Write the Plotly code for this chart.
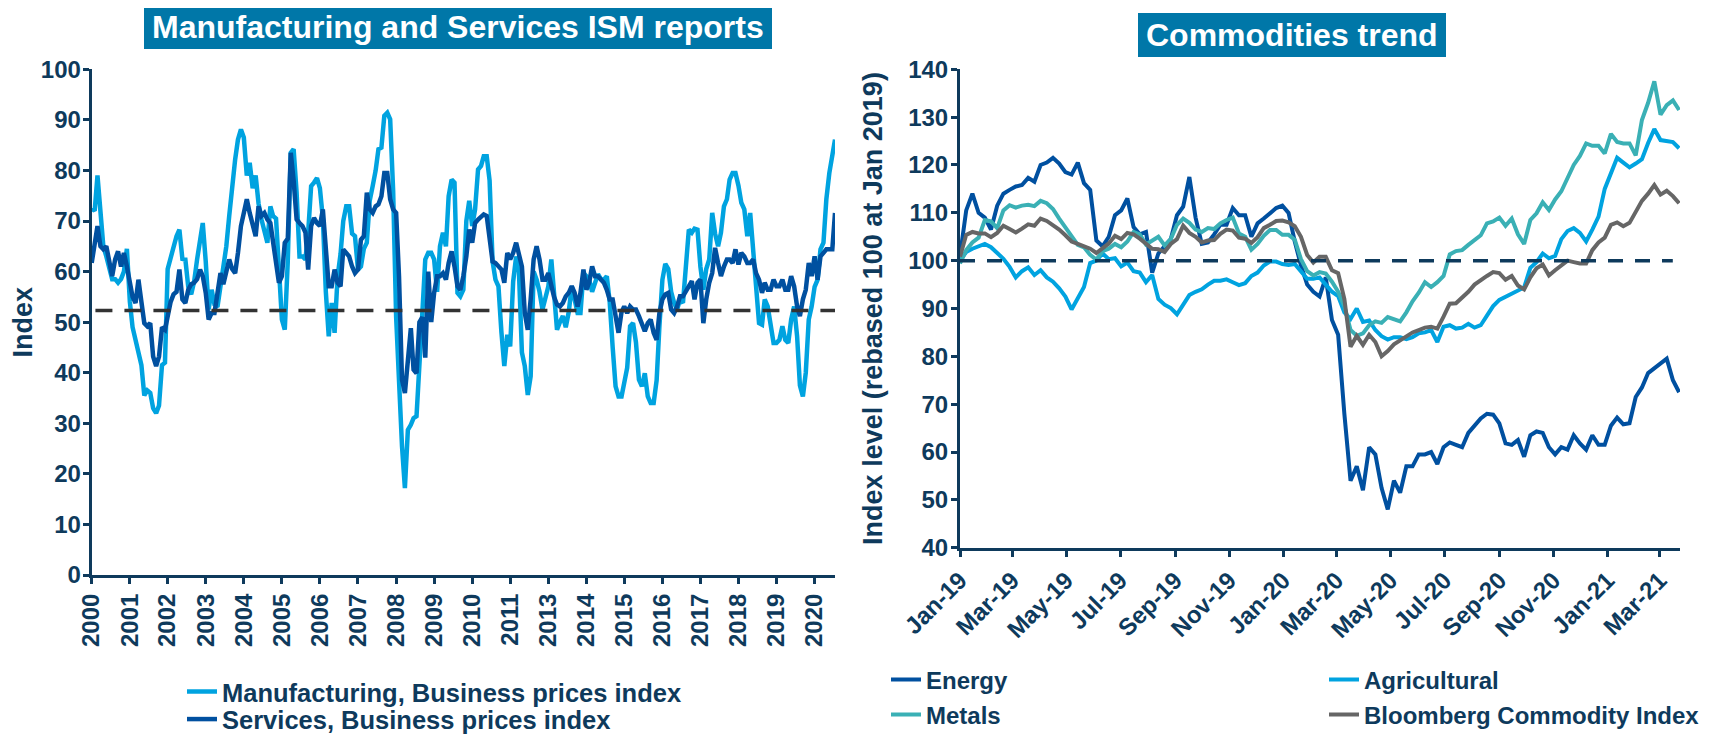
import pandas as pd
import plotly.graph_objects as go

# ---------------- data: ISM business prices (monthly, Jan 2000 - Mar 2021) ----------------
ism_dates = pd.date_range("2000-01-01", periods=255, freq="MS")
manufacturing = [
    72.5, 72, 79, 71, 65, 63, 61, 58.5, 58.5, 57.8, 58.5, 60,
    64.5, 54, 49, 46.5, 44, 41.5, 35.5, 36.5, 36, 33, 32, 33.5,
    41.5, 42, 60.5, 63, 64.5, 67, 68.3, 62.5, 62.4, 57, 55.5, 58,
    62.4, 66, 69.6, 62, 52.5, 56.4, 53.5, 53, 57, 62, 65, 71,
    77, 82.2, 86.1, 88.1, 86.5, 79, 81.5, 76.5, 79, 73.5, 70.3, 68,
    65.7, 72.9, 71, 70.5, 59.7, 50.5, 48.5, 62, 83.5, 84.2, 75.6, 63,
    63, 62.4, 67.7, 76.9, 77.6, 78.5, 76.5, 70.5, 56, 47.2, 53.8, 47.9,
    59, 63.5, 70, 72.9, 72.9, 67.5, 67, 60.4, 61, 64.5, 65.7, 74,
    76.9, 80, 84.2, 84.5, 90.8, 91.4, 90.1, 76, 51, 36, 25.5, 17.2,
    28.7, 29.7, 31, 31.4, 40, 52, 62.4, 63.7, 63.7, 62.4, 56, 65,
    67.7, 65, 74.9, 78.2, 77.6, 55.8, 55.1, 56.4, 70, 74, 69, 72.3,
    80.2, 80.9, 82.8, 82.8, 78, 62, 58.4, 57.1, 48, 41.3, 47.5, 45.2,
    58, 63, 60, 44, 41.3, 35.6, 39.3, 60, 58.4, 56, 52.5, 55,
    57.1, 62.4, 54.5, 48.5, 50, 51.2, 49, 52, 57.1, 54, 51.8, 51.8,
    59.7, 59.1, 58.4, 56, 57.8, 59.5, 58.5, 58.4, 59.1, 54, 45, 37.3,
    35.3, 35.3, 38, 41, 49.2, 49.8, 46, 38.6, 37.3, 39.9, 35.3, 34,
    34, 38.5, 49.2, 58.4, 61.5, 60.5, 56, 53.8, 52.5, 54.5, 53.8, 62,
    68.3, 67.7, 68.5, 68.3, 61, 56.4, 60.5, 62.4, 71.6, 67.5, 65, 67.7,
    72.9, 74.3, 78.2, 79.5, 79.5, 77, 73.6, 72.3, 67, 71.6, 64, 55,
    49.8, 49.5, 54.5, 53.1, 49.5, 45.9, 45.9, 46.5, 49.2, 46.5, 45.9, 50.5,
    53.1, 47.2, 37.5, 35.3, 40, 50.5, 53.1, 57, 58.4, 64.4, 65.7, 74.3,
    79.5, 82.8, 86.1,
]
services = [
    61.7, 66.3, 69, 65, 64.4, 65, 61.5, 59.1, 62.4, 64, 61, 63.7,
    61, 57.5, 55, 53.8, 58.4, 54, 49.8, 49.2, 49.8, 43.2, 41.3, 43.2,
    49, 48.5, 51.2, 54, 55.5, 56, 60.4, 54.5, 53.8, 56.4, 57.5, 57.8,
    58.5, 60.4, 59.1, 55.8, 50.5, 51.8, 51.8, 55.8, 59.7, 57.5, 60.4, 62.4,
    60.5, 59.7, 63.7, 69, 71.6, 74.3, 71.6, 69.6, 67, 72.9, 71, 71.6,
    70.3, 69.6, 66.3, 62, 57.8, 59.1, 65.7, 66.5, 83.5, 78, 70.3, 69.6,
    69, 67.7, 60.4, 69, 70.6, 69.6, 69, 72.3, 63.7, 57.1, 57.1, 60.4,
    57.8, 57.1, 64.4, 63.7, 63, 61, 59.7, 60.4, 66.3, 67, 75.6, 72.3,
    71.6, 72.9, 73.3, 74.9, 79.5, 79.5, 74.3, 72.3, 71.6, 59, 38.6, 36,
    42.6, 48.8, 40.6, 39.9, 50, 51, 43, 60, 50, 55.8, 59.1, 59.1,
    59.7, 58.4, 61.7, 64, 61, 57.1, 56.4, 59.1, 63, 68.3, 65.7, 69.6,
    70.3, 71, 71.3, 71, 66, 62, 61.7, 61, 60.4, 57.8, 63.7, 62.4,
    63.7, 65.7, 63.7, 61, 51.8, 48.5, 54.5, 62.4, 65, 62.4, 58.4, 58.4,
    59.7, 57.1, 55, 53.5, 53.1, 53.8, 55.1, 55.8, 57.1, 55.8, 53.1, 55.8,
    60.4, 56.4, 57.8, 61, 59.1, 59.1, 58.4, 57.8, 56.4, 54.5, 54.5, 51.2,
    47.9, 52, 53.1, 51.8, 53.1, 52.5, 52.5, 51.2, 49.8, 48.2, 49.8, 50.5,
    47.9, 46.5, 51.8, 54.5, 55.5, 55.8, 52.5, 51.8, 53.1, 55.1, 55.1, 56,
    57.1, 58.1, 54.5, 57.8, 58.4, 49.8, 54.5, 57.8, 59.7, 64.7, 61.7, 59.1,
    61, 62.4, 62.4, 61.7, 64.4, 61.4, 63.7, 63, 61.7, 61.7, 62.4, 59.7,
    58.4, 55.8, 57.8, 56.4, 56.4, 58.4, 57.1, 57.1, 58.4, 56.4, 56.4, 59.1,
    57.1, 53.1, 51.2, 54.5, 56.4, 61.7, 59.1, 63, 58.4, 63, 63.7, 64.4,
    64.4, 64.4, 71.6,
]
ism_reference = 52.3
ism_tick_dates = ism_dates[::13]
ism_tick_labels = [str(d.year) for d in ism_tick_dates]

# ---------------- data: commodities (weekly, rebased 100 at Jan 2019) ----------------
comm_dates = pd.date_range("2019-01-01", periods=117, freq="7D")
energy = [
    101, 110.5, 114, 110, 109, 106.5, 111.5, 114, 114.8, 115.5,
    115.8, 117.3, 116.5, 120, 120.5, 121.5, 120.3, 118.5, 118, 120.5,
    116.2, 114.8, 104.2, 103, 105, 109.5, 110.5, 113, 107, 105.5,
    106, 97.5, 101.5, 103, 104.5, 109.5, 111.3, 117.5, 109, 103.5,
    103.8, 105.5, 107.5, 107.5, 111, 109.5, 109.5, 105, 107.8, 108.8,
    110, 111, 111.5, 110, 104, 99, 95, 93.5, 92.5, 96.5,
    87.6, 84.5, 68, 54, 57, 52, 61, 59.5, 52.5, 48,
    54, 51.5, 57, 57, 59.5, 59.5, 60, 57.5, 61, 62,
    61.5, 61, 64, 65.5, 67, 68, 67.8, 66, 61.8, 61.5,
    62.5, 59, 63.5, 64.3, 64, 61, 59.5, 61, 60.5, 63.5,
    61.8, 60.5, 63.5, 61.5, 61.5, 65.5, 67.2, 65.8, 66, 71.5,
    73.5, 76.5, 77.5, 78.5, 79.5, 75, 72.5,
]
agricultural = [
    100, 101.8, 102.5, 103, 103.5, 102.8, 101.6, 100.4, 98.7, 96.5,
    97.8, 98.6, 97, 98, 96.5, 95.6, 94.2, 92.5, 89.8, 92,
    94.5, 99.5, 100, 101.5, 100.3, 100.5, 98.8, 99.6, 97.8, 97.5,
    95.5, 97, 92, 90.8, 90.1, 88.8, 91, 92.8, 93.5, 94,
    95, 95.8, 95.8, 96.1, 95.5, 94.9, 95.3, 96.8, 97.5, 99,
    99.8, 99.8, 99.3, 99.1, 99.3, 97.8, 96.2, 96.2, 96.5, 95,
    93.5, 92.6, 89.2, 87.8, 90, 87.2, 87.5, 85.5, 84.2, 83.5,
    84, 84, 83.6, 84, 84.8, 85, 85.5, 83, 86.2, 86.5,
    85.8, 86, 86.8, 86, 86.5, 88.5, 90.5, 91.8, 92.5, 93.2,
    93.7, 94.4, 98.5, 99.7, 101.5, 100.5, 101, 104.5, 106.2, 106.8,
    105.8, 104, 106.5, 109.2, 115, 118.3, 121.5, 120.5, 119.5, 120.3,
    121.2, 124.6, 127.5, 125.2, 125.1, 124.8, 123.5,
]
metals = [
    99.4, 102.2, 103.8, 104.8, 108.5, 108.2, 106.8, 110.5, 111.6, 111.1,
    111.5, 111.7, 111.4, 112.5, 112, 110.8, 108.8, 107, 105, 103.3,
    102.8, 101.2, 100.2, 102, 102.5, 103.5, 102.8, 104, 106, 105.5,
    103.4, 104.2, 105, 103.2, 104.5, 107.5, 108.8, 107.9, 106.5, 106,
    106.8, 106.6, 107.8, 108.5, 109, 105.7, 105, 102.3, 103.5, 105.2,
    106.4, 106.4, 105.4, 105.4, 104.4, 100.3, 97.8, 96.9, 97.6, 97.3,
    95.6, 93.5, 90.5, 85.5, 84.3, 84.8, 86.5, 87.3, 87, 88.2,
    87.8, 87.3, 89.2, 91.5, 93.3, 95.5, 94.5, 95.5, 96.8, 101.3,
    102, 102.2, 103.3, 104.4, 105.3, 107.8, 108.2, 109, 107.3, 108.8,
    105.5, 103.5, 108.5, 109.9, 112.2, 110.6, 112.8, 114.5, 117.3, 120,
    121.9, 124.5, 124, 124, 122.4, 126.5, 124.8, 124.5, 124.5, 122,
    129.4, 133, 137.5, 130.5, 132.5, 133.5, 131.5,
]
bloomberg = [
    100.8, 105.4, 106, 105.7, 105.7, 104.9, 105.8, 107.3, 106.6, 105.9,
    106.7, 107.6, 107.3, 108.8, 108.3, 107.5, 106.5, 105.3, 104, 103.5,
    102.9, 102.5, 101.6, 102.6, 103.6, 105.2, 104.5, 105.8, 105.5, 104.6,
    103.6, 102.5, 102.4, 101.8, 103.5, 104.5, 107.3, 105.8, 105, 103.8,
    104.2, 104.3, 105.6, 106.5, 106.3, 104.8, 104.6, 103.7, 104.9, 106.8,
    107.5, 108.3, 108.4, 108, 107.2, 105, 101.2, 99.6, 100.8, 100.8,
    98, 97.4, 92, 82, 84.3, 82.4, 84.5, 83, 80, 81.1,
    82.5, 83.3, 84.2, 85, 85.5, 86, 86.2, 85.8, 88.3, 91,
    91.1, 92.3, 93.5, 95, 96, 96.8, 97.6, 97.4, 96, 96.8,
    94.8, 94, 96.5, 98.4, 99.2, 96.9, 98, 98.9, 100, 99.7,
    99.4, 99.4, 102.2, 103.8, 104.8, 107.5, 108, 107.2, 107.9, 110.2,
    112.5, 114, 115.8, 113.8, 114.6, 113.5, 112,
]
comm_reference = 100

# ---------------- styling ----------------
PAGE_OFFSET = 8           # default body margin of the html page
W, H = 1715 - PAGE_OFFSET, 738 - PAGE_OFFSET
NAVY = "#0E3A5C"
TITLE_BG = "#0077A8"
FONT = "Liberation Sans, Arial, sans-serif"
C_LIGHT = "#00A3E0"
C_DARK = "#0050A0"
C_TEAL = "#3AB0B5"
C_GREY = "#666666"


def px_x(v):
    return (v - PAGE_OFFSET) / W


def px_y(v):
    return 1 - (v - PAGE_OFFSET) / H


fig = go.Figure()

fig.add_trace(go.Scatter(x=ism_dates, y=manufacturing, mode="lines",
                         name="Manufacturing, Business prices index",
                         line=dict(color=C_LIGHT, width=4.5), xaxis="x", yaxis="y",
                         legend="legend"))
fig.add_trace(go.Scatter(x=ism_dates, y=services, mode="lines",
                         name="Services, Business prices index",
                         line=dict(color=C_DARK, width=4.5), xaxis="x", yaxis="y",
                         legend="legend2"))

fig.add_trace(go.Scatter(x=comm_dates, y=energy, mode="lines", name="Energy",
                         line=dict(color=C_DARK, width=4), xaxis="x2", yaxis="y2",
                         legend="legend3"))
fig.add_trace(go.Scatter(x=comm_dates, y=agricultural, mode="lines", name="Agricultural",
                         line=dict(color=C_LIGHT, width=4), xaxis="x2", yaxis="y2",
                         legend="legend3"))
fig.add_trace(go.Scatter(x=comm_dates, y=metals, mode="lines", name="Metals",
                         line=dict(color=C_TEAL, width=4), xaxis="x2", yaxis="y2",
                         legend="legend4"))
fig.add_trace(go.Scatter(x=comm_dates, y=bloomberg, mode="lines",
                         name="Bloomberg Commodity Index",
                         line=dict(color=C_GREY, width=4), xaxis="x2", yaxis="y2",
                         legend="legend4"))

tickfont = dict(family=FONT, size=24, color=NAVY, weight="bold")
axis_common = dict(showline=True, linecolor=NAVY, linewidth=3, ticks="outside",
                   ticklen=6, tickwidth=3, tickcolor=NAVY, showgrid=False,
                   zeroline=False, tickfont=tickfont, automargin=False)

legend_font_l = dict(family=FONT, size=25.5, color=NAVY, weight="bold")
legend_font_r = dict(family=FONT, size=24, color=NAVY, weight="bold")
ytitle_font = dict(family=FONT, size=27, color=NAVY, weight="bold")

fig.update_layout(
    width=W, height=H,
    margin=dict(l=0, r=0, t=0, b=0, autoexpand=False),
    paper_bgcolor="white", plot_bgcolor="white",
    xaxis=dict(domain=[px_x(91.7), px_x(835)], anchor="y", type="date",
               range=[ism_dates[0], ism_dates[-1]],
               tickmode="array", tickvals=list(ism_tick_dates), ticktext=ism_tick_labels,
               tickangle=-90, **axis_common),
    yaxis=dict(domain=[px_y(575), px_y(69.3)], anchor="x", range=[0, 100],
               tickmode="linear", tick0=0, dtick=10, ticklabelstandoff=-3,
               title=dict(text="Index", font=ytitle_font, standoff=8),
               **axis_common),
    xaxis2=dict(domain=[px_x(960), px_x(1680)], anchor="y2", type="date",
                range=["2019-01-01", "2021-03-24"], tick0="2019-01-01", dtick="M2",
                tickformat="%b-%y", tickangle=-45, **axis_common),
    yaxis2=dict(domain=[px_y(547.7), px_y(69.3)], anchor="x2", range=[40, 140],
                tickmode="linear", tick0=40, dtick=10, ticklabelstandoff=-2,
                title=dict(text="Index level (rebased 100 at Jan 2019)",
                           font=ytitle_font, standoff=18),
                **axis_common),
    legend=dict(x=px_x(182), y=px_y(692), xanchor="left", yanchor="middle",
                orientation="h", font=legend_font_l, bgcolor="rgba(0,0,0,0)"),
    legend2=dict(x=px_x(182), y=px_y(719.5), xanchor="left", yanchor="middle",
                 orientation="h", font=legend_font_l, bgcolor="rgba(0,0,0,0)"),
    legend3=dict(x=px_x(886), y=px_y(680), xanchor="left", yanchor="middle",
                 orientation="h", entrywidth=393, font=legend_font_r,
                 bgcolor="rgba(0,0,0,0)"),
    legend4=dict(x=px_x(886), y=px_y(715), xanchor="left", yanchor="middle",
                 orientation="h", entrywidth=393, font=legend_font_r,
                 bgcolor="rgba(0,0,0,0)"),
    showlegend=True,
)

# reference dashed lines
fig.add_shape(type="line", xref="x domain", yref="y", x0=0.005, x1=1, y0=ism_reference,
              y1=ism_reference, line=dict(color="#333333", width=3.5, dash="17px,12px"))
fig.add_shape(type="line", xref="x2 domain", yref="y2", x0=0, x1=0.99, y0=comm_reference,
              y1=comm_reference, line=dict(color=NAVY, width=3.5, dash="15px,12px"))

# title boxes
for (x0, x1, y0, y1, text) in [
    (144, 772, 4, 49, "Manufacturing and Services ISM reports"),
    (1138, 1446, 13, 57, "Commodities trend"),
]:
    fig.add_shape(type="rect", xref="paper", yref="paper",
                  x0=px_x(x0), x1=px_x(x1), y0=px_y(y1), y1=px_y(y0),
                  fillcolor=TITLE_BG, line=dict(width=0), layer="below")
    fig.add_annotation(xref="paper", yref="paper", x=px_x((x0 + x1) / 2),
                       y=px_y((y0 + y1) / 2), text=text, showarrow=False,
                       xanchor="center", yanchor="middle",
                       font=dict(family=FONT, size=32, color="white", weight="bold"))

fig.write_html("out.html")
